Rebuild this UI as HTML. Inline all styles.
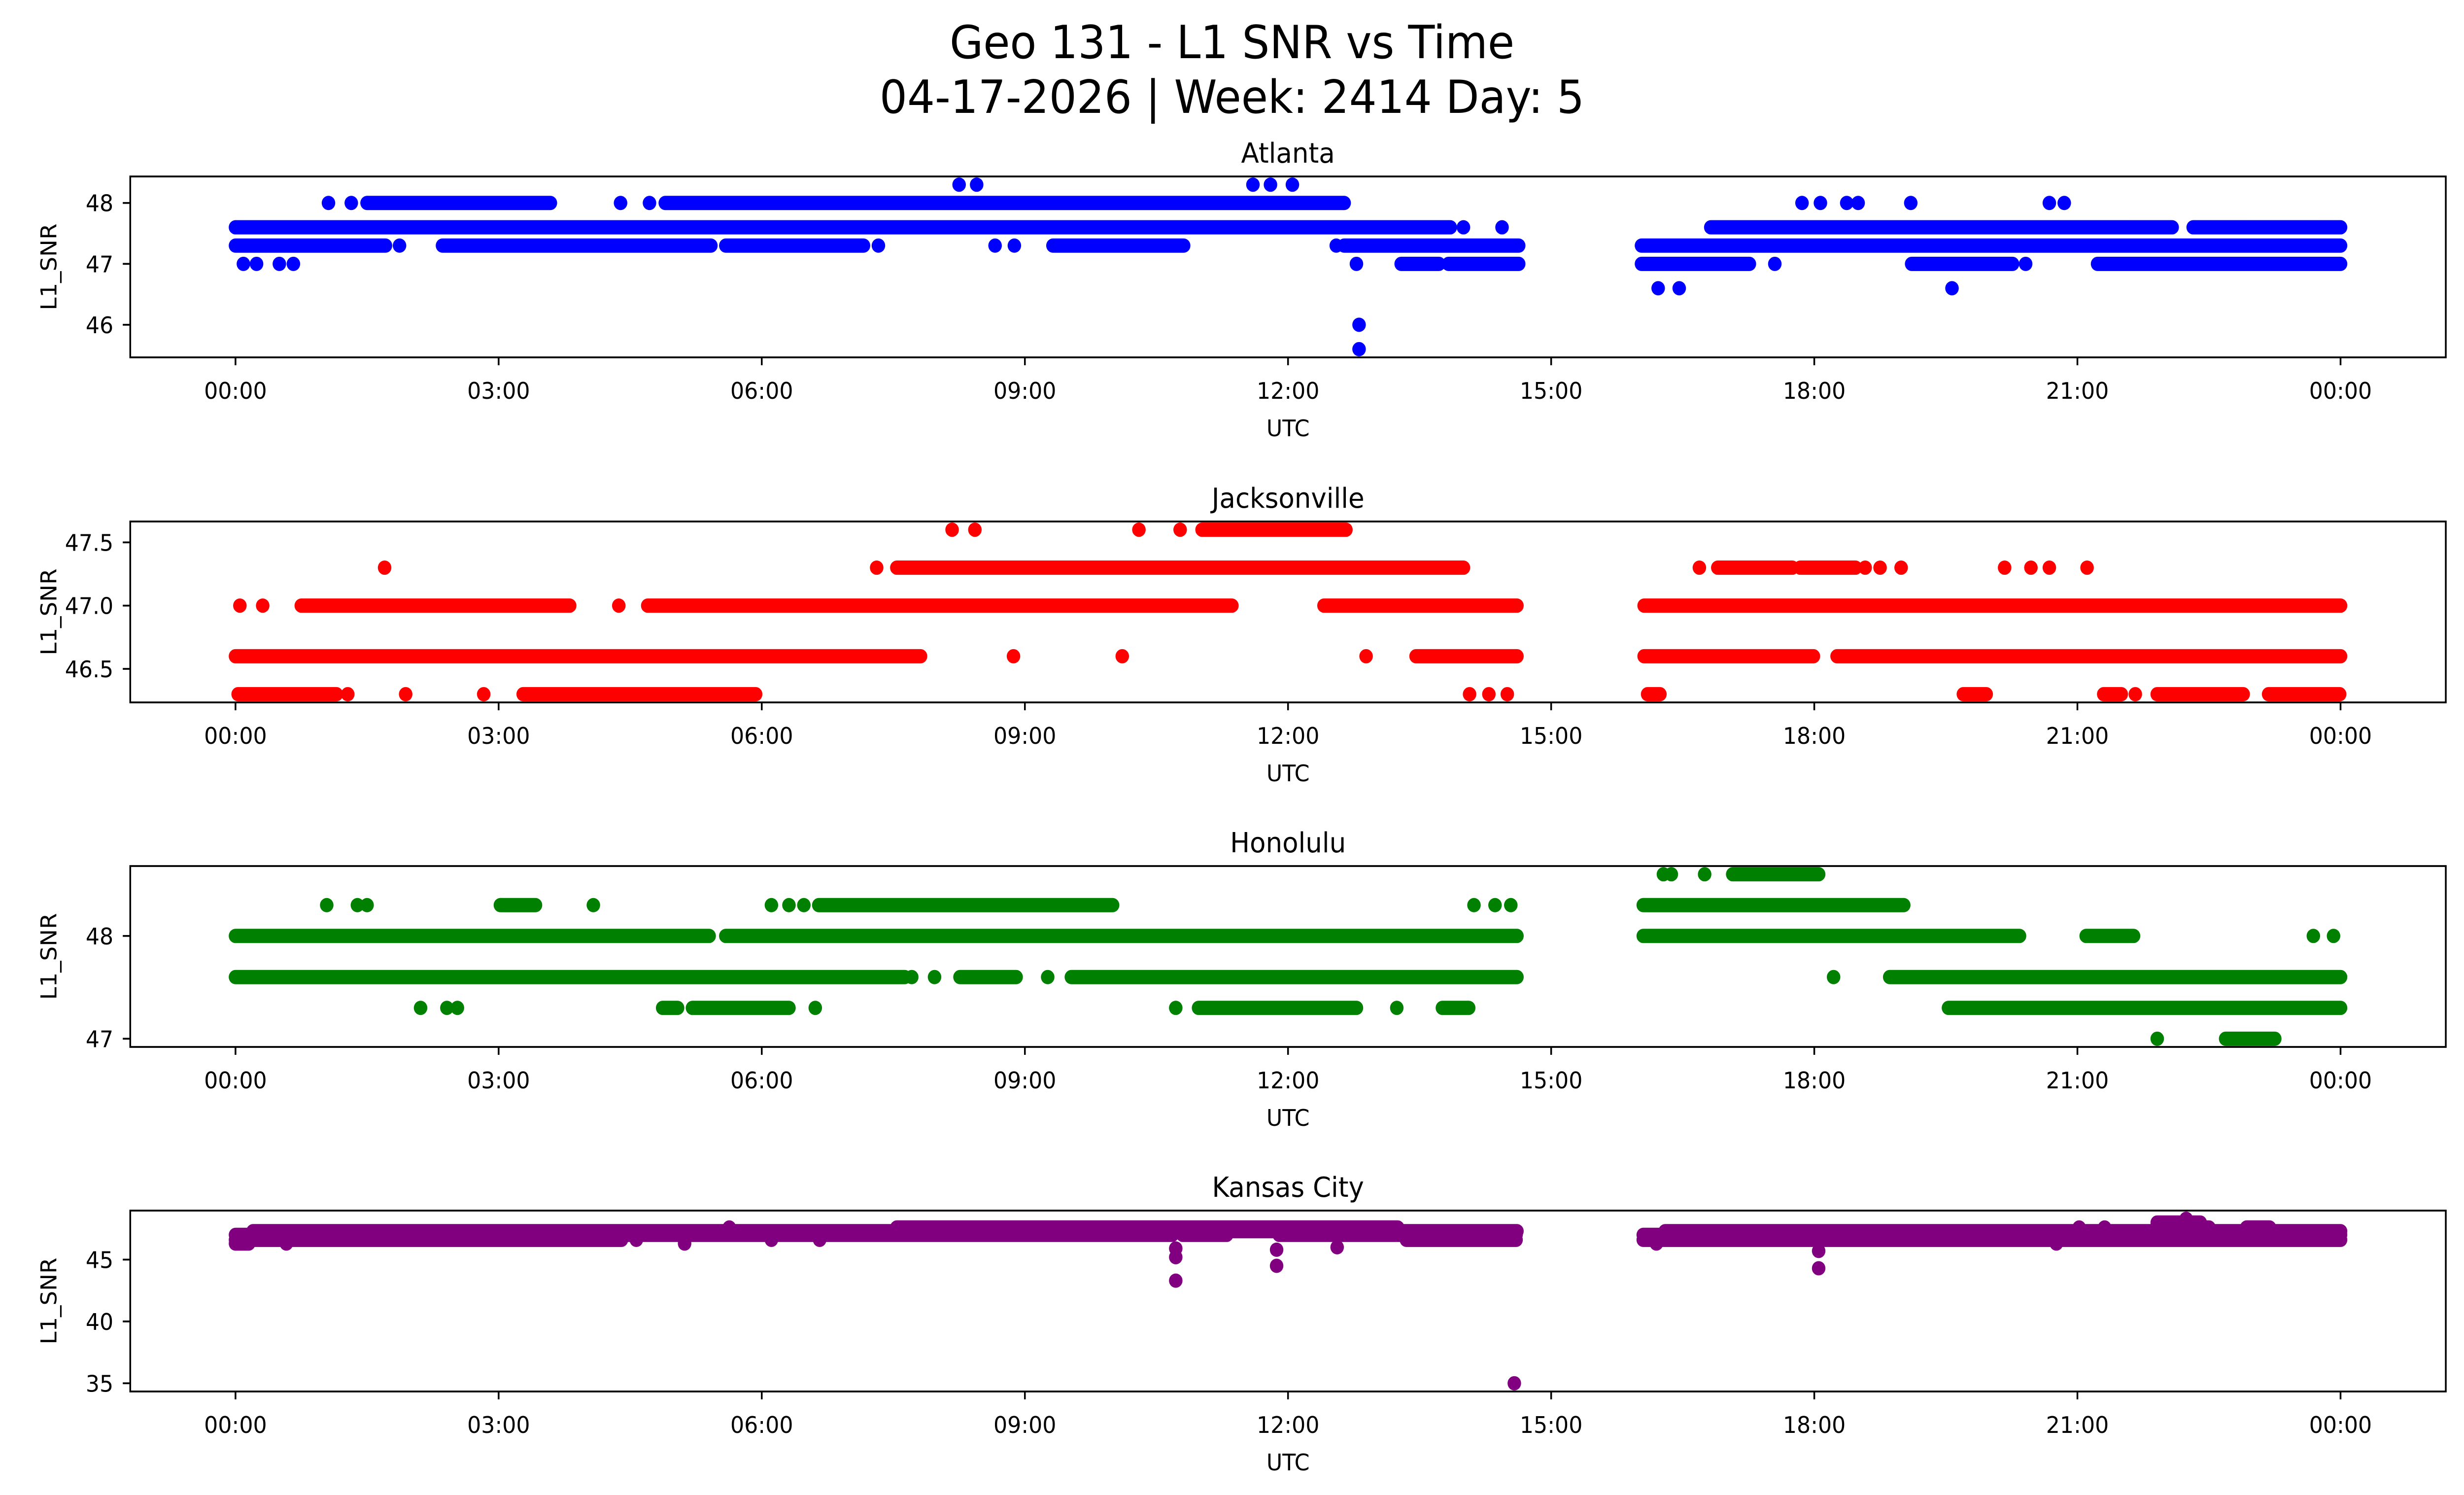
<!DOCTYPE html>
<html>
<head>
<meta charset="utf-8">
<style>
  html,body{margin:0;padding:0;background:#fff;width:100%;height:100%;overflow:hidden;}
  #fig{position:absolute;left:0;top:0;width:100vw;height:100vh;display:block;font-family:"DejaVu Sans","Liberation Sans",sans-serif;}
</style>
</head>
<body>
<svg id="fig" xmlns="http://www.w3.org/2000/svg" viewBox="0 0 5278 3033" preserveAspectRatio="none">
  <rect x="0" y="0" width="5278" height="3033" fill="#fff"/>
  <text x="2639" y="118" font-size="93" text-anchor="middle" fill="#000">Geo 131 - L1 SNR vs Time</text>
  <text x="2639" y="229" font-size="93" text-anchor="middle" fill="#000">04-17-2026 | Week: 2414 Day: 5</text>
</svg>
<script>
// ---- data: segments [startHour, endHour, L1_SNR]; single points have start == end ----
const xTickHours = [0, 3, 6, 9, 12, 15, 18, 21, 24];
const xTickLabels = ["00:00","03:00","06:00","09:00","12:00","15:00","18:00","21:00","00:00"];

const atlantaRuns = [
  [8.25,8.25,48.3],[8.45,8.45,48.3],[11.6,11.6,48.3],[11.8,11.8,48.3],[12.05,12.05,48.3],
  [1.06,1.06,48],[1.32,1.32,48],[1.5,3.59,48],[4.39,4.39,48],[4.72,4.72,48],[4.9,12.64,48],
  [17.86,17.86,48],[18.07,18.07,48],[18.37,18.37,48],[18.5,18.5,48],[19.1,19.1,48],[20.68,20.68,48],[20.85,20.85,48],
  [0,13.85,47.6],[14.0,14.0,47.6],[14.44,14.44,47.6],[16.82,22.08,47.6],[22.32,24,47.6],
  [0,1.71,47.3],[1.87,1.87,47.3],[2.36,5.42,47.3],[5.59,7.16,47.3],[7.33,7.33,47.3],[8.66,8.66,47.3],[8.88,8.88,47.3],
  [9.32,10.81,47.3],[12.55,12.55,47.3],[12.64,14.63,47.3],[16.03,24,47.3],
  [0.09,0.09,47],[0.24,0.24,47],[0.5,0.5,47],[0.66,0.66,47],[12.78,12.78,47],[13.29,13.72,47],[13.83,14.63,47],
  [16.03,17.26,47],[17.55,17.55,47],[19.11,20.26,47],[20.41,20.41,47],[21.23,24,47],
  [16.22,16.22,46.6],[16.46,16.46,46.6],[19.57,19.57,46.6],
  [12.81,12.81,46.0],[12.81,12.81,45.6]
];
const atlantaTicks = [46, 47, 48];

const jacksonvilleRuns = [
  [8.17,8.17,47.6],[8.43,8.43,47.6],[10.30,10.30,47.6],[10.77,10.77,47.6],[11.02,12.66,47.6],
  [1.70,1.70,47.3],[7.31,7.31,47.3],[7.54,14.0,47.3],[16.69,16.69,47.3],[16.9,17.75,47.3],[17.84,18.47,47.3],
  [18.58,18.58,47.3],[18.75,18.75,47.3],[18.99,18.99,47.3],[20.17,20.17,47.3],[20.47,20.47,47.3],[20.68,20.68,47.3],[21.11,21.11,47.3],
  [0.05,0.05,47.0],[0.31,0.31,47.0],[0.75,3.81,47.0],[4.37,4.37,47.0],[4.70,11.36,47.0],[12.41,14.61,47.0],[16.06,24,47.0],
  [0,7.81,46.6],[8.87,8.87,46.6],[10.11,10.11,46.6],[12.89,12.89,46.6],[13.46,14.61,46.6],[16.06,17.99,46.6],[18.26,24,46.6],
  [0.03,1.15,46.3],[1.28,1.28,46.3],[1.94,1.94,46.3],[2.83,2.83,46.3],[3.28,5.93,46.3],[14.07,14.07,46.3],[14.29,14.29,46.3],
  [14.5,14.5,46.3],[16.1,16.24,46.3],[19.7,19.96,46.3],[21.3,21.5,46.3],[21.66,21.66,46.3],[21.91,22.89,46.3],[23.18,23.99,46.3]
];
const jacksonvilleTicks = [46.5, 47.0, 47.5];

const honoluluRuns = [
  [16.28,16.28,48.6],[16.37,16.37,48.6],[16.75,16.75,48.6],[17.07,18.05,48.6],
  [1.04,1.04,48.3],[1.39,1.39,48.3],[1.5,1.5,48.3],[3.02,3.42,48.3],[4.08,4.08,48.3],[6.11,6.11,48.3],[6.31,6.31,48.3],
  [6.48,6.48,48.3],[6.65,10.0,48.3],[14.12,14.12,48.3],[14.36,14.36,48.3],[14.54,14.54,48.3],[16.05,19.02,48.3],
  [0,5.40,48.0],[5.59,14.61,48.0],[16.05,20.34,48.0],[21.1,21.64,48.0],[23.69,23.69,48.0],[23.92,23.92,48.0],
  [0,7.63,47.6],[7.71,7.71,47.6],[7.97,7.97,47.6],[8.26,8.90,47.6],[9.26,9.26,47.6],[9.53,14.61,47.6],[18.22,18.22,47.6],[18.86,24,47.6],
  [2.11,2.11,47.3],[2.41,2.41,47.3],[2.53,2.53,47.3],[4.87,5.04,47.3],[5.21,6.31,47.3],[6.61,6.61,47.3],[10.72,10.72,47.3],
  [10.98,12.78,47.3],[13.24,13.24,47.3],[13.76,14.06,47.3],[19.53,24,47.3],
  [21.91,21.91,47.0],[22.69,23.25,47.0]
];
const honoluluTicks = [47, 48];

const kansasRuns = [
  [0,0.15,46.3],[0.58,0.58,46.3],[5.12,5.12,46.3],[16.2,16.2,46.3],[20.76,20.76,46.3],
  [0,4.4,46.6],[4.57,4.57,46.6],[6.11,6.11,46.6],[6.66,6.66,46.6],[13.35,14.6,46.6],[16.05,24,46.6],
  [0,10.68,47.0],[10.8,11.3,47.0],[11.9,14.6,47.0],[16.05,21.9,47.0],[22.4,24,47.0],
  [0.2,14.61,47.3],[16.3,24,47.3],
  [5.63,5.63,47.6],[7.54,13.25,47.6],[21.02,21.02,47.6],[21.31,21.31,47.6],[21.9,22.5,47.6],[22.93,23.19,47.6],
  [21.91,22.4,48.0],[22.24,22.24,48.3],
  [10.72,10.72,45.9],[10.72,10.72,45.2],[10.72,10.72,43.3],[11.87,11.87,45.8],[11.87,11.87,44.5],
  [12.56,12.56,46.0],[14.58,14.58,35.0],[18.05,18.05,45.7],[18.05,18.05,44.3]
];
const kansasTicks = [35, 40, 45];

const panels = [
  {name:"atlanta", title:"Atlanta", color:"blue", runs:atlantaRuns, ticks:atlantaTicks, fmt:v=>v.toFixed(0), ymin:45.465, ymax:48.435, top:358},
  {name:"jacksonville", title:"Jacksonville", color:"red", runs:jacksonvilleRuns, ticks:jacksonvilleTicks, fmt:v=>v.toFixed(1), ymin:46.235, ymax:47.665, top:1058},
  {name:"honolulu", title:"Honolulu", color:"green", runs:honoluluRuns, ticks:honoluluTicks, fmt:v=>v.toFixed(0), ymin:46.92, ymax:48.68, top:1757},
  {name:"kansas-city", title:"Kansas City", color:"purple", runs:kansasRuns, ticks:kansasTicks, fmt:v=>v.toFixed(0), ymin:34.335, ymax:48.965, top:2456}
];

const NS = "http://www.w3.org/2000/svg";
const svg = document.getElementById("fig");
const LEFT = 279, RIGHT = 5239, H = 367;
const XMIN = -1.2, XMAX = 25.2;
const R = 14.5;
function xScale(t){ return LEFT + (t - XMIN) / (XMAX - XMIN) * (RIGHT - LEFT); }
function mk(tag, attrs, parent){
  const e = document.createElementNS(NS, tag);
  for (const k in attrs) e.setAttribute(k, attrs[k]);
  (parent || svg).appendChild(e);
  return e;
}

panels.forEach(p => {
  const top = p.top, bottom = p.top + H;
  const yScale = v => bottom - (v - p.ymin) / (p.ymax - p.ymin) * H;
  const g = mk("g", {});
  
  

  const clipId = "clip-" + p.name;
  const cp = mk("clipPath", {id: clipId}, g);
  mk("rect", {x: LEFT, y: top, width: RIGHT - LEFT, height: H}, cp);

  const marks = mk("g", {"clip-path": "url(#" + clipId + ")"}, g);
  
  
  p.runs.forEach(r => {
    let m;
    if (r[0] === r[1]) {
      m = mk("circle", {cx: xScale(r[0]), cy: yScale(r[2]), r: R, fill: p.color}, marks);
    } else {
      m = mk("line", {x1: xScale(r[0]), x2: xScale(r[1]), y1: yScale(r[2]), y2: yScale(r[2]),
        stroke: p.color, "stroke-width": 2 * R, "stroke-linecap": "round"}, marks);
    }
    
    
  });

  const frame = mk("rect", {x: LEFT, y: top, width: RIGHT - LEFT, height: H, fill: "none", stroke: "#000", "stroke-width": 3.7}, g);
  
  

  const title = mk("text", {x: (LEFT + RIGHT) / 2, y: top - 28, "font-size": 56, "text-anchor": "middle", fill: "#000"}, g);
  title.textContent = p.title;
  
  

  xTickHours.forEach((h, i) => {
    const x = xScale(h);
    const tk = mk("line", {x1: x, x2: x, y1: bottom, y2: bottom + 16, stroke: "#000", "stroke-width": 3.7}, g);
    
    
    const lb = mk("text", {x: x, y: bottom + 84, "font-size": 46.7, "text-anchor": "middle", fill: "#000"}, g);
    lb.textContent = xTickLabels[i];
    
    
  });

  const xl = mk("text", {x: (LEFT + RIGHT) / 2, y: bottom + 160, "font-size": 46.7, "text-anchor": "middle", fill: "#000"}, g);
  xl.textContent = "UTC";
  
  

  p.ticks.forEach(v => {
    const y = yScale(v);
    const tk = mk("line", {x1: LEFT - 16, x2: LEFT, y1: y, y2: y, stroke: "#000", "stroke-width": 3.7}, g);
    
    
    const lb = mk("text", {x: LEFT - 36, y: y + 17, "font-size": 46.7, "text-anchor": "end", fill: "#000"}, g);
    lb.textContent = p.fmt(v);
    
    
  });

  const yl = mk("text", {x: 0, y: 0, "font-size": 46.7, "text-anchor": "middle", fill: "#000",
    transform: "translate(121," + (top + H / 2) + ") rotate(-90)"}, g);
  yl.textContent = "L1_SNR";
  
  
});
</script>
</body>
</html>
